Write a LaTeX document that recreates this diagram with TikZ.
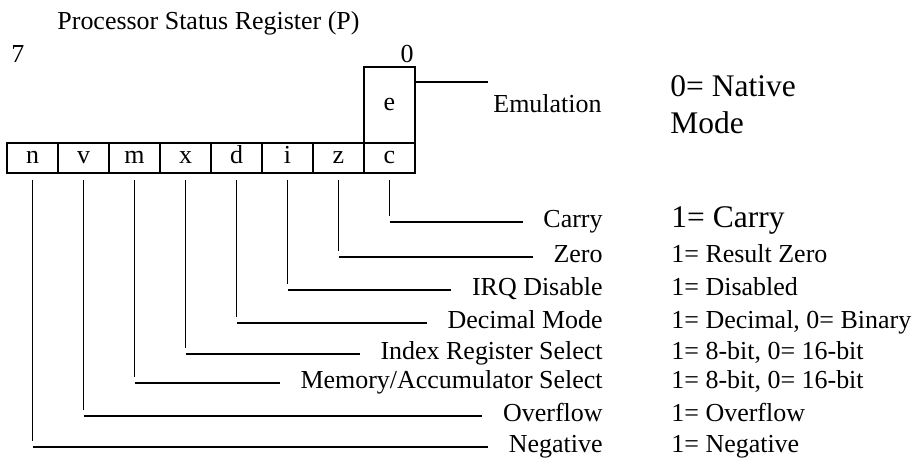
\documentclass[tikz,border=0pt]{standalone}
\usepackage{fontspec}
\setmainfont{Liberation Serif}
\usepackage{tikz}
\usetikzlibrary{calc}
\tikzset{
  cell/.style={draw,line width=0.6pt,minimum width=23.97pt,minimum height=14.1pt,inner sep=0pt,text height=0.62em,text depth=0.1em,font=\fontsize{12.2}{14}\selectfont},
  lbl/.style={anchor=east,inner sep=0pt,text height=0.7em,text depth=0.2em,font=\fontsize{12.2}{14}\selectfont},
  desc/.style={anchor=west,inner sep=0pt,text height=0.7em,text depth=0.2em,font=\fontsize{12.2}{14}\selectfont},
  txt/.style={inner sep=0pt,font=\fontsize{12.2}{14}\selectfont},
  lead/.style={line width=0.6pt},
}
\newcommand{\bigtxt}{\fontsize{14.8}{17.4}\selectfont}
% one flag: bit letter, y of its lead, name, meaning
\newcommand{\flag}[4]{%
  \node[lbl] (l#1) at (603,#2) {#3};
  \node[desc] (d#1) at (671,#2) {#4};
  \draw[lead,shorten <=2.8pt,shorten >=3pt] (b#1.south) -- (b#1.south |- l#1.west);
  \draw[lead,shorten >=9.5pt] (b#1.south |- l#1.west) -- (l#1.west);}

\begin{document}
\begin{tikzpicture}[x=0.47pt,y=-0.47pt]
\useasboundingbox (0,0) rectangle (917,459);
\node[txt,anchor=base west] (ttl) at (57,30) {Processor Status Register (P)};
\node[txt,anchor=base west] (hi) at (11,63) {7};
\node[txt,anchor=base east] (lo) at (414,63) {0};
% the register
\foreach \b [count=\k from 0] in {n,v,m,x,d,i,z,c}
  \node[cell] (b\b) at ({32.5+\k*51},158) {\b};
\node[cell,minimum height=35.7pt] (be) at (389.5,105) {e};
% emulation bit
\coordinate (emu) at (488,82);
\draw[lead] (be.east |- emu) -- (emu);
\node[txt,anchor=base west] (le) at (493,113) {Emulation};
\node[txt,anchor=north west,align=left,font=\bigtxt] (de) at (670,75) {0= Native\\Mode};
% the flags
\flag{c}{222}{Carry}{\bigtxt 1= Carry}
\flag{z}{257}{Zero}{1= Result Zero}
\flag{i}{290}{IRQ Disable}{1= Disabled}
\flag{d}{323}{Decimal Mode}{1= Decimal, 0= Binary}
\flag{x}{354}{Index Register Select}{1= 8-bit, 0= 16-bit}
\flag{m}{383}{Memory/Accumulator Select}{1= 8-bit, 0= 16-bit}
\flag{v}{416}{Overflow}{1= Overflow}
\flag{n}{447}{Negative}{1= Negative}
\end{tikzpicture}
\end{document}
